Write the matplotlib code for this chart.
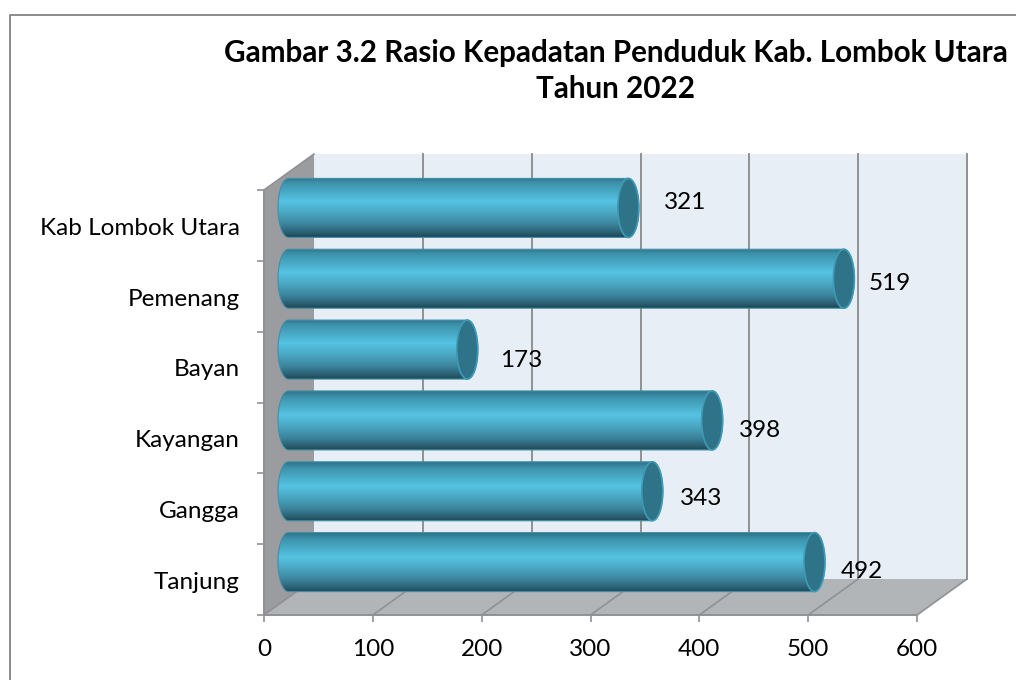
import matplotlib
matplotlib.use("Agg")
import matplotlib.pyplot as plt
import numpy as np
from matplotlib.colors import LinearSegmentedColormap
from matplotlib.lines import Line2D
from matplotlib.patches import Ellipse, Polygon

# bottom to top, same as the axis
categories = ["Tanjung", "Gangga", "Kayangan", "Bayan", "Pemenang", "Kab Lombok Utara"]
values = [492, 343, 398, 173, 519, 321]
x_ticks = [0, 100, 200, 300, 400, 500, 600]
title = "Gambar 3.2 Rasio Kepadatan Penduduk Kab. Lombok Utara\nTahun 2022"

plt.rcParams["font.family"] = ["Lato", "DejaVu Sans"]

W, H = 1016, 680
fig = plt.figure(figsize=(W / 100, H / 100), dpi=100)
ax = fig.add_axes([264 / W, (H - 615) / H, 653 / W, 425 / H])
ax.set_xlim(0, 600)
ax.set_ylim(0, 6)

# pixel sizes to data units
px_x = 600 / 653
px_y = 6 / 425
dx = 50 * px_x  # depth of the fake 3d box
dy = 36 * px_y
GRID = "#8f9193"

# walls
ax.add_patch(Polygon([(dx, dy), (600 + dx, dy), (600 + dx, 6 + dy), (dx, 6 + dy)],
                     fc="#e8eef5", ec="none", clip_on=False, zorder=1))
ax.add_patch(Polygon([(0, 0), (600, 0), (600 + dx, dy), (dx, dy)],
                     fc="#b2b5b8", ec="none", clip_on=False, zorder=1))
ax.add_patch(Polygon([(0, 0), (dx, dy), (dx, 6 + dy), (0, 6)],
                     fc="#9b9c9f", ec="none", clip_on=False, zorder=1))

# grid on floor and back wall
for t in x_ticks:
    ax.plot([t, t + dx], [0, dy], color=GRID, lw=1.2, clip_on=False, zorder=2)
    if t > 0:
        ax.plot([t + dx, t + dx], [dy, 6 + dy], color=GRID, lw=1.4, clip_on=False, zorder=2)
ax.plot([0, dx], [6, 6 + dy], color=GRID, lw=1.2, clip_on=False, zorder=2)

for s in ["top", "right"]:
    ax.spines[s].set_visible(False)
for s in ["left", "bottom"]:
    ax.spines[s].set_color(GRID)
    ax.spines[s].set_linewidth(1.4)
    ax.spines[s].set_zorder(3)

ax.set_xticks(x_ticks)
ax.set_yticks(range(7))
ax.set_yticklabels([])
ax.set_yticks(np.arange(6) + 0.5, minor=True)
ax.set_yticklabels(categories, minor=True)
ax.tick_params(axis="x", length=5, width=1.2, color=GRID, pad=12.5, labelsize=17.5)
ax.tick_params(axis="y", which="major", length=5, width=1.2, color=GRID)
ax.tick_params(axis="y", which="minor", length=0, pad=17.5, labelsize=17.5)
for lab in ax.get_yticklabels(minor=True):
    lab.set_verticalalignment("center")
    lab.set_transform(lab.get_transform() + matplotlib.transforms.ScaledTranslation(0, -2 / 72, fig.dpi_scale_trans))

# cylinders
shade = LinearSegmentedColormap.from_list("cyl", [
    (0.0, "#2f7489"), (0.10, "#3d93ac"), (0.40, "#55c3e2"), (0.58, "#4baac7"),
    (0.80, "#3b8299"), (0.93, "#2a5f72"), (1.0, "#1f4754"),
])
grad = np.linspace(0, 1, 128).reshape(-1, 1)

shift_x = 15 * px_x
shift_y = 17.5 * px_y
bar_h = 59 * px_y
cap_w = 21 * px_x
label_off = [(47, -9), (49, -7), (48, -10), (54, -11), (46, -5), (57, 5)]  # px from bar end

for i, v in enumerate(values):
    yc = i + 0.5 + shift_y
    xe = v + shift_x
    xl = shift_x - 1 * px_x + cap_w / 2
    th = np.linspace(np.pi / 2, 3 * np.pi / 2, 30)
    left = np.column_stack([xl + cap_w / 2 * np.cos(th), yc + bar_h / 2 * np.sin(th)])
    th = np.linspace(-np.pi / 2, np.pi / 2, 30)
    right = np.column_stack([xe + cap_w / 2 * np.cos(th), yc + bar_h / 2 * np.sin(th)])
    body = Polygon(np.vstack([left, right]), fc="none", ec="#3f8fa8", lw=0.8, clip_on=False, zorder=5)
    ax.add_patch(body)
    im = ax.imshow(grad, cmap=shade, aspect="auto", zorder=4, interpolation="bilinear",
                   extent=[xl - cap_w, xe + cap_w, yc - bar_h / 2, yc + bar_h / 2])
    im.set_clip_path(body)
    im.set_clip_box(fig.bbox)
    ax.add_patch(Ellipse((xe, yc), cap_w, bar_h, fc="#2f7389", ec="#3f9ab6", lw=1.2,
                         clip_on=False, zorder=6))
    ax.annotate(str(v), (xe, yc), xytext=(label_off[i][0] * 0.72, label_off[i][1] * 0.72),
                textcoords="offset points", ha="center", va="center",
                fontsize=17.5, color="black", zorder=8, annotation_clip=False)

ax.set_xlim(0, 600)
ax.set_ylim(0, 6)

fig.text(616 / W, 1 - 71 / H, title, ha="center", va="center", fontsize=21.3,
         fontweight="bold", linespacing=1.38)

# chart frame, runs off the crop on the right and bottom
fig.add_artist(Line2D([9.5 / W, 9.5 / W, 1], [0, 1 - 15 / H, 1 - 15 / H], color="#8a8a8a", lw=1.4))

fig.savefig("out.png", dpi=100, facecolor="white")
